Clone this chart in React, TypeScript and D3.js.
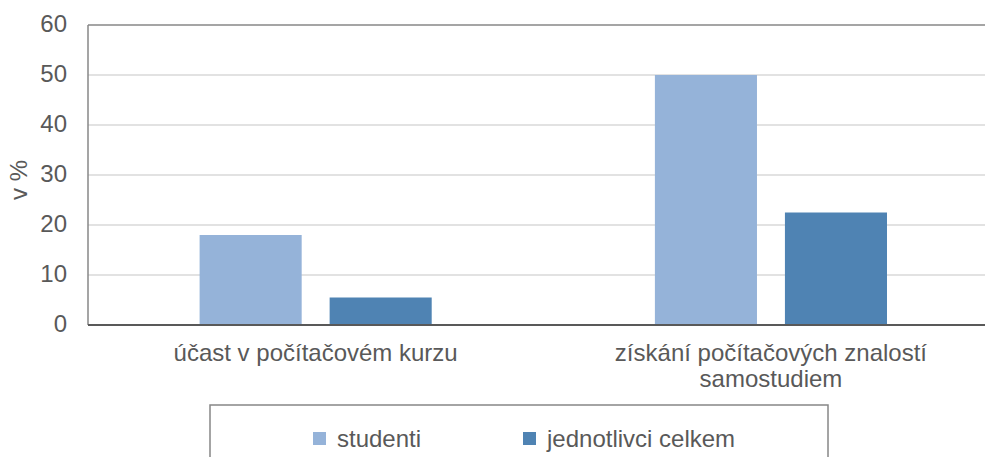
import React, { useEffect, useRef } from "react";
import * as d3 from "d3";

const categories = ["účast v počítačovém kurzu", "získání počítačových znalostí samostudiem"];
const categoryLines = [["účast v počítačovém kurzu"], ["získání počítačových znalostí", "samostudiem"]];
const seriesNames = ["studenti", "jednotlivci celkem"];
const studenti = [18, 50];
const jednotlivci = [5.5, 22.5];
const yTicks = [0, 10, 20, 30, 40, 50, 60];
const colors = ["#95b3d9", "#4f83b3"];

const W = 985;
const H = 457;
const FONT = "'Liberation Sans', Arial, sans-serif";
const FS = 24;

const App = () => {
  const svgRef = useRef<SVGSVGElement>(null);

  useEffect(() => {
    const svg = d3.select(svgRef.current);
    svg.selectAll("*").remove();

    const left = 88;
    const top = 25;
    const bottom = 325;
    const right = 998.6;

    const x = d3.scaleBand().domain(categories).range([left, right]).padding(0);
    const xInner = d3
      .scaleBand()
      .domain(seriesNames)
      .range([111.6, x.bandwidth() - 111.6])
      .paddingInner(0.215)
      .paddingOuter(0);
    const y = d3.scaleLinear().domain([0, 60]).range([bottom, top]);

    // gridlines
    svg
      .append("g")
      .selectAll("line")
      .data(yTicks.filter((t) => t > 0 && t < 60))
      .enter()
      .append("line")
      .attr("x1", left)
      .attr("x2", W)
      .attr("y1", (d) => y(d))
      .attr("y2", (d) => y(d))
      .attr("stroke", "#d9d9d9")
      .attr("stroke-width", 1.5);

    // top border + left axis
    svg
      .append("line")
      .attr("x1", left)
      .attr("x2", W)
      .attr("y1", y(60))
      .attr("y2", y(60))
      .attr("stroke", "#878787")
      .attr("stroke-width", 1.5);
    svg
      .append("line")
      .attr("x1", left)
      .attr("x2", left)
      .attr("y1", y(60))
      .attr("y2", y(0))
      .attr("stroke", "#878787")
      .attr("stroke-width", 1.5);

    // y tick labels
    svg
      .append("g")
      .selectAll("text")
      .data(yTicks)
      .enter()
      .append("text")
      .attr("x", 67)
      .attr("y", (d) => y(d) + 7)
      .attr("text-anchor", "end")
      .attr("font-family", FONT)
      .attr("font-size", FS)
      .attr("fill", "#595959")
      .text((d) => d);

    // y axis title
    svg
      .append("text")
      .attr("transform", `translate(26.5,180) rotate(-90)`)
      .attr("text-anchor", "middle")
      .attr("font-family", FONT)
      .attr("font-size", FS)
      .attr("fill", "#595959")
      .text("v %");

    // bars
    const seriesData = [studenti, jednotlivci];
    seriesData.forEach((vals, si) => {
      svg
        .append("g")
        .selectAll("rect")
        .data(vals)
        .enter()
        .append("rect")
        .attr("x", (d, i) => (x(categories[i]) as number) + (xInner(seriesNames[si]) as number))
        .attr("y", (d) => y(d))
        .attr("width", xInner.bandwidth())
        .attr("height", (d) => y(0) - y(d))
        .attr("fill", colors[si]);
    });

    // bottom axis
    svg
      .append("line")
      .attr("x1", left)
      .attr("x2", W)
      .attr("y1", y(0))
      .attr("y2", y(0))
      .attr("stroke", "#595959")
      .attr("stroke-width", 2);

    // category labels
    categories.forEach((c, i) => {
      const cx = (x(c) as number) + x.bandwidth() / 2;
      categoryLines[i].forEach((line, li) => {
        svg
          .append("text")
          .attr("x", cx)
          .attr("y", 361 + li * 26)
          .attr("text-anchor", "middle")
          .attr("font-family", FONT)
          .attr("font-size", FS)
          .attr("fill", "#595959")
          .text(line);
      });
    });

    // legend
    svg
      .append("rect")
      .attr("x", 210)
      .attr("y", 405)
      .attr("width", 618)
      .attr("height", 70)
      .attr("fill", "none")
      .attr("stroke", "#878787")
      .attr("stroke-width", 1.5);

    const legendX = [313, 523];
    seriesNames.forEach((s, i) => {
      svg
        .append("rect")
        .attr("x", legendX[i])
        .attr("y", 432)
        .attr("width", 13)
        .attr("height", 13)
        .attr("fill", colors[i]);
      svg
        .append("text")
        .attr("x", legendX[i] + 24)
        .attr("y", 447)
        .attr("font-family", FONT)
        .attr("font-size", FS)
        .attr("fill", "#595959")
        .text(s);
    });
  }, []);

  return (
    <svg
      ref={svgRef}
      width={W}
      height={H}
      style={{ position: "absolute", left: 0, top: 0, background: "#fff" }}
    />
  );
};

export default App;
